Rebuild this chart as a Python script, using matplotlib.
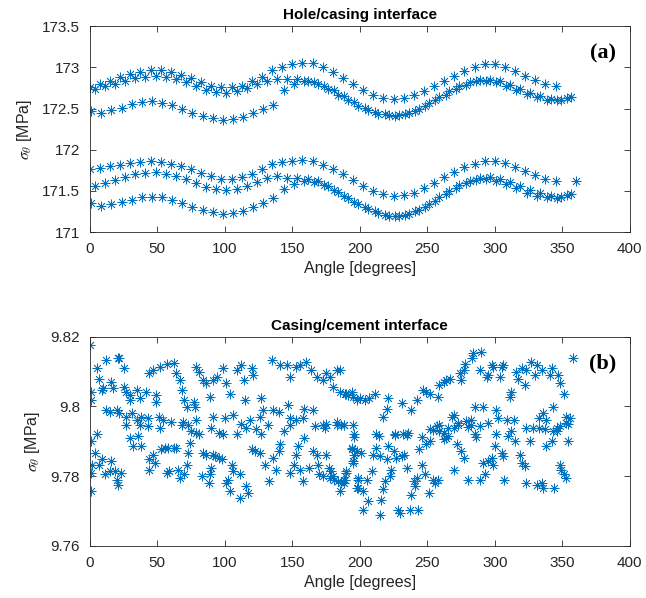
import numpy as np
import matplotlib
matplotlib.use("Agg")
import matplotlib.pyplot as plt
from matplotlib.ticker import FuncFormatter

# -------------------------------------------------------------------
# Data: hole/casing interface (three curves per group, 7.5 deg steps)
# -------------------------------------------------------------------
ang_a = np.arange(0, 346, 7.5)
sig_a = [172.76, 172.80, 172.84, 172.88, 172.92, 172.95, 172.97, 172.97,
         172.95, 172.91, 172.87, 172.82, 172.78, 172.76, 172.76, 172.78,
         172.83, 172.89, 172.97, 173.01, 173.04, 173.06, 173.05, 173.00,
         172.94, 172.87, 172.80, 172.73, 172.67, 172.63, 172.62, 172.63,
         172.66, 172.71, 172.77, 172.84, 172.90, 172.96, 173.01, 173.04,
         173.04, 173.01, 172.96, 172.90, 172.85, 172.80, 172.78]

ang_b = np.arange(3.75, 357, 7.5)
sig_b = [172.74, 172.77, 172.80, 172.84, 172.87, 172.89, 172.90, 172.89,
         172.86, 172.82, 172.77, 172.73, 172.70, 172.69, 172.71, 172.75,
         172.80, 172.84, 172.86, 172.86, 172.86, 172.84, 172.80, 172.74,
         172.67, 172.60, 172.53, 172.48, 172.44, 172.42, 172.42, 172.45,
         172.50, 172.57, 172.64, 172.71, 172.77, 172.82, 172.85, 172.85,
         172.83, 172.79, 172.74, 172.69, 172.65, 172.62, 172.61, 172.64]

ang_c = np.arange(1, 354, 7.5)
sig_c = [172.47, 172.45, 172.48, 172.51, 172.55, 172.58, 172.59, 172.57,
         172.54, 172.50, 172.45, 172.41, 172.38, 172.36, 172.37, 172.40,
         172.45, 172.50, 172.54, 172.72, 172.80, 172.83, 172.82, 172.78,
         172.72, 172.65, 172.58, 172.51, 172.46, 172.43, 172.41, 172.43,
         172.47, 172.53, 172.60, 172.67, 172.74, 172.79, 172.83, 172.84,
         172.82, 172.78, 172.73, 172.68, 172.64, 172.61, 172.60, 172.63]

ang_d = list(np.arange(0, 346, 7.5)) + [360]
sig_d = [171.76, 171.78, 171.80, 171.82, 171.84, 171.85, 171.86, 171.85,
         171.83, 171.80, 171.76, 171.72, 171.68, 171.65, 171.65, 171.67,
         171.71, 171.76, 171.83, 171.85, 171.86, 171.87, 171.86, 171.82,
         171.77, 171.70, 171.63, 171.56, 171.50, 171.46, 171.44, 171.45,
         171.48, 171.53, 171.60, 171.67, 171.73, 171.79, 171.83, 171.86,
         171.86, 171.84, 171.79, 171.74, 171.69, 171.65, 171.62, 171.62]

ang_e = np.arange(3.75, 357, 7.5)
sig_e = [171.56, 171.59, 171.63, 171.67, 171.70, 171.72, 171.73, 171.71,
         171.68, 171.64, 171.59, 171.55, 171.52, 171.51, 171.52, 171.56,
         171.61, 171.66, 171.68, 171.66, 171.66, 171.65, 171.62, 171.56,
         171.49, 171.41, 171.34, 171.28, 171.23, 171.20, 171.20, 171.22,
         171.27, 171.34, 171.42, 171.50, 171.57, 171.62, 171.66, 171.67,
         171.65, 171.61, 171.56, 171.51, 171.47, 171.44, 171.43, 171.46]

ang_f = np.arange(1, 354, 7.5)
sig_f = [171.35, 171.32, 171.34, 171.36, 171.39, 171.42, 171.43, 171.42,
         171.39, 171.35, 171.31, 171.27, 171.24, 171.22, 171.23, 171.26,
         171.30, 171.35, 171.41, 171.52, 171.58, 171.62, 171.61, 171.57,
         171.51, 171.44, 171.37, 171.30, 171.25, 171.21, 171.19, 171.21,
         171.25, 171.31, 171.38, 171.46, 171.53, 171.59, 171.63, 171.64,
         171.62, 171.58, 171.53, 171.48, 171.44, 171.42, 171.41, 171.45]

# -------------------------------------------------------------------
# Data: casing/cement interface (scattered readings)
# -------------------------------------------------------------------
ang_cem = [
    0, 1, 1, 5, 12, 21, 22, 25, 7, 10, 9, 16, 17, 25, 27, 30, 35, 42, 49,
    30, 37, 49, 44, 47, 52, 57, 62, 64, 67, 68, 70, 72, 77, 78, 79, 81, 84,
    86, 89, 91, 94, 99, 101, 104, 109, 112, 114, 115, 120, 121, 127, 128,
    135, 141, 146, 148, 153, 156, 160, 164, 168, 173, 175, 178, 180, 183,
    185, 190, 195, 198,
    12, 15, 20, 22, 27, 31, 35, 38, 43, 51, 54, 60, 69, 73, 79, 91, 100,
    106, 112, 119, 126, 136, 140, 147, 148, 153, 158, 159, 165, 173, 175,
    183, 188,
    1, 1, 2, 4, 5, 1, 7, 9, 11, 15, 16, 19, 20, 23, 21, 27, 30, 32, 38, 36,
    44, 47, 48, 44, 52, 53, 56, 58, 62, 64, 57, 59, 65, 67, 70, 72, 73, 74,
    75, 79, 81, 83, 84, 86, 88, 89, 90, 91, 93, 96, 98, 99, 101, 102, 104,
    105, 106, 111, 111, 116, 117, 120, 122, 126, 127, 130, 133, 136, 138,
    140, 141, 144, 148, 151, 153, 154, 156, 158, 159, 162, 165, 168, 169,
    170, 173, 175, 177, 178, 179, 180, 181, 184, 185, 188, 189, 190, 194,
    195, 196, 198, 199, 199,
    43, 37, 68, 90, 96, 109, 116, 123, 132, 148, 167, 174, 183,
    185, 186, 189, 191, 194, 196, 200, 204, 207, 211, 212, 217, 220, 221,
    226, 231, 232, 235, 238, 242, 246, 247, 249, 252, 254, 258, 259, 262,
    264, 267, 259, 262, 265, 268, 270, 273, 274, 275, 277, 278, 280, 282,
    283, 284, 285, 286, 289, 290, 291, 294, 295, 298, 299, 301, 302, 304,
    305, 306, 309, 311, 312, 314, 316, 317, 320, 322, 323, 327, 330, 331,
    333, 335, 336, 338, 341, 342, 343, 346, 347, 348, 351, 358, 353, 356,
    354,
    186, 188, 190, 194, 195, 196, 199, 198, 201, 202, 205, 206, 202, 209,
    210, 212, 214, 215, 216, 215, 217, 219, 220, 221, 222, 223, 225, 226,
    227, 228, 230, 231, 233, 235, 236, 237, 238, 240, 241, 242, 243, 244,
    246, 248, 249, 251, 252, 254, 256, 258, 259, 262, 264, 265, 270, 272,
    275, 277, 280, 285, 289, 291, 293, 295, 298, 299, 300, 301, 305, 306,
    307, 310, 315, 319, 320, 322, 323, 326, 331, 335, 336, 338, 342, 344,
    346, 348, 349, 351, 353, 354,
    252, 257, 270, 273, 279, 282, 289, 295, 312, 323, 328, 333, 337, 343,
    348, 353, 188, 195,
]
sig_cem = [
    9.8176, 9.8042, 9.8018, 9.8109, 9.8133, 9.8140, 9.8138, 9.8109, 9.8080,
    9.8052, 9.8047, 9.8071, 9.8052, 9.8056, 9.8042, 9.8033, 9.8047, 9.8042,
    9.8033, 9.8018, 9.8023, 9.8013, 9.8095, 9.8104, 9.8114, 9.8123, 9.8125,
    9.8095, 9.8076, 9.8047, 9.8018, 9.7999, 9.8013, 9.7999, 9.8114, 9.8100,
    9.8076, 9.8066, 9.8028, 9.8076, 9.8085, 9.8109, 9.8066, 9.8037, 9.8104,
    9.8119, 9.8076, 9.8018, 9.8109, 9.8090, 9.8023, 9.7989, 9.8133, 9.8119,
    9.8119, 9.8085, 9.8114, 9.8119, 9.8128, 9.8104, 9.8085, 9.8076, 9.8095,
    9.8085, 9.8056, 9.8104, 9.8042, 9.8037, 9.8028, 9.8018,
    9.7989, 9.7985, 9.7989, 9.7980, 9.7970, 9.7980, 9.7961, 9.7970, 9.7966,
    9.7970, 9.7961, 9.7956, 9.7956, 9.7946, 9.7961, 9.7970, 9.7966, 9.7975,
    9.7951, 9.7961, 9.7970, 9.7989, 9.7985, 9.8004, 9.7966, 9.7961, 9.7966,
    9.7994, 9.7989, 9.7946, 9.7951, 9.7956, 9.7946,
    9.7757, 9.7810, 9.7833, 9.7867, 9.7920, 9.7900, 9.7833, 9.7848, 9.7805,
    9.7814, 9.7843, 9.7814, 9.7790, 9.7810, 9.7776, 9.7948, 9.7910, 9.7886,
    9.7886, 9.7915, 9.7848, 9.7862, 9.7838, 9.7819, 9.7939, 9.7877, 9.7881,
    9.7881, 9.7881, 9.7881, 9.7810, 9.7814, 9.7819, 9.7795, 9.7805, 9.7833,
    9.7867, 9.7896, 9.7929, 9.7924, 9.7920, 9.7800, 9.7867, 9.7862, 9.7781,
    9.7805, 9.7824, 9.7862, 9.7857, 9.7853, 9.7848, 9.7920, 9.7781, 9.7790,
    9.7757, 9.7833, 9.7814, 9.7805, 9.7738, 9.7771, 9.7752, 9.7877, 9.7872,
    9.7867, 9.7920, 9.7833, 9.7786, 9.7853, 9.7819, 9.7872, 9.7891, 9.7929,
    9.7810, 9.7833, 9.7862, 9.7886, 9.7819, 9.7786, 9.7910, 9.7824, 9.7872,
    9.7862, 9.7833, 9.7805, 9.7800, 9.7862, 9.7824, 9.7795, 9.7814, 9.7800,
    9.7790, 9.7786, 9.7757, 9.7781, 9.7790, 9.7810, 9.7877, 9.7838, 9.7920,
    9.7872, 9.7790, 9.7767,
    9.7943, 9.7948, 9.7948, 9.7939, 9.7924, 9.7920, 9.7939, 9.7934, 9.7948,
    9.7948, 9.7943, 9.7939, 9.7948,
    9.8104, 9.7946, 9.8037, 9.8033, 9.8042, 9.7913, 9.8023, 9.8018, 9.8023,
    9.8037, 9.7922, 9.7970, 9.7994, 9.8023, 9.7918, 9.8009, 9.7922, 9.7918,
    9.7989, 9.8018, 9.7913, 9.8047, 9.8042, 9.8037, 9.7932, 9.8028, 9.8061,
    9.8071, 9.8076, 9.8080, 9.7946, 9.7908, 9.7937, 9.7970, 9.7975, 9.7946,
    9.8095, 9.8076, 9.8104, 9.8123, 9.7942, 9.7961, 9.8138, 9.8152, 9.7999,
    9.7913, 9.8104, 9.8157, 9.7999, 9.8085, 9.8090, 9.8119, 9.8114, 9.7989,
    9.7966, 9.8085, 9.8114, 9.8119, 9.7961, 9.8028, 9.8042, 9.7961, 9.8100,
    9.8080, 9.8109, 9.8061, 9.8104, 9.8128, 9.8090, 9.8119, 9.7966, 9.8104,
    9.7980, 9.7961, 9.8090, 9.8109, 9.7999, 9.7937, 9.8090, 9.8066, 9.8037,
    9.8138, 9.7970, 9.7966, 9.7951,
    9.7781, 9.7790, 9.7814, 9.7881, 9.7843, 9.7862, 9.7795, 9.7767, 9.7867,
    9.7757, 9.7790, 9.7728, 9.7704, 9.7814, 9.7862, 9.7881, 9.7915, 9.7857,
    9.7733, 9.7690, 9.7762, 9.7786, 9.7848, 9.7886, 9.7800, 9.7819, 9.7872,
    9.7920, 9.7853, 9.7704, 9.7695, 9.7857, 9.7862, 9.7824, 9.7924, 9.7704,
    9.7747, 9.7786, 9.7771, 9.7795, 9.7704, 9.7877, 9.7833, 9.7805, 9.7891,
    9.7752, 9.7900, 9.7790, 9.7781, 9.7790, 9.7929, 9.7924, 9.7910, 9.7915,
    9.7819, 9.7891, 9.7872, 9.7853, 9.7790, 9.7920, 9.7790, 9.7838, 9.7805,
    9.7843, 9.7853, 9.7833, 9.7886, 9.7920, 9.7867, 9.7857, 9.7790, 9.7915,
    9.7900, 9.7862, 9.7838, 9.7829, 9.7781, 9.7900, 9.7776, 9.7781, 9.7767,
    9.7886, 9.7900, 9.7767, 9.7929, 9.7833, 9.7819, 9.7805, 9.7795, 9.7900,
    9.7934, 9.7944, 9.7939, 9.7953, 9.7958, 9.7948, 9.7944, 9.7953, 9.7929,
    9.7939, 9.7939, 9.7939, 9.7934, 9.7929, 9.7944, 9.7953, 9.7948, 9.7948,
]

# -------------------------------------------------------------------
# Style (MATLAB-like)
# -------------------------------------------------------------------
BLUE = "#0072BD"
AXC = "#262626"
plt.rcParams["font.family"] = ["Liberation Sans", "DejaVu Sans"]
plt.rcParams["mathtext.fontset"] = "stix"

STAR = dict(linestyle="none", marker=(8, 2, 0), markersize=7,
            markeredgewidth=0.55, color=BLUE, markeredgecolor=BLUE)


def style_axes(ax, title, tag):
    ax.set_xlim(0, 400)
    ax.set_xticks(range(0, 401, 50))
    ax.tick_params(direction="in", top=True, right=True, length=4,
                   width=0.6, colors=AXC, labelsize=11, labelcolor=AXC)
    ax.tick_params(axis="x", pad=7)
    ax.tick_params(axis="y", pad=7)
    for s in ax.spines.values():
        s.set_color(AXC)
        s.set_linewidth(0.6)
    ax.set_xlabel("Angle [degrees]", fontsize=11.5, color=AXC, labelpad=4)
    ax.set_ylabel(r"$\sigma_\theta$ [MPa]", fontsize=11.5, color=AXC,
                  labelpad=6)
    ax.set_title(title, fontsize=11, fontweight="bold", color="black",
                 pad=5)
    ax.text(0.975, 0.87, tag, transform=ax.transAxes, ha="right",
            va="center", fontsize=16, fontweight="bold",
            family=["Liberation Serif", "DejaVu Serif"])
    ax.yaxis.set_major_formatter(FuncFormatter(lambda v, p: f"{v:g}"))


fig = plt.figure(figsize=(6.46, 5.98), dpi=100)
ax1 = fig.add_axes([0.139, 0.612, 0.836, 0.344])
ax2 = fig.add_axes([0.139, 0.087, 0.836, 0.350])

for a, s in [(ang_a, sig_a), (ang_b, sig_b), (ang_c, sig_c),
             (ang_d, sig_d), (ang_e, sig_e), (ang_f, sig_f)]:
    ax1.plot(a, s, **STAR)
ax1.set_ylim(171, 173.5)
ax1.set_yticks([171, 171.5, 172, 172.5, 173, 173.5])
style_axes(ax1, "Hole/casing interface", "(a)")

ax2.plot(ang_cem, sig_cem, **STAR)
ax2.set_ylim(9.76, 9.82)
ax2.set_yticks([9.76, 9.78, 9.80, 9.82])
style_axes(ax2, "Casing/cement interface", "(b)")

fig.savefig("out.png", dpi=100)
